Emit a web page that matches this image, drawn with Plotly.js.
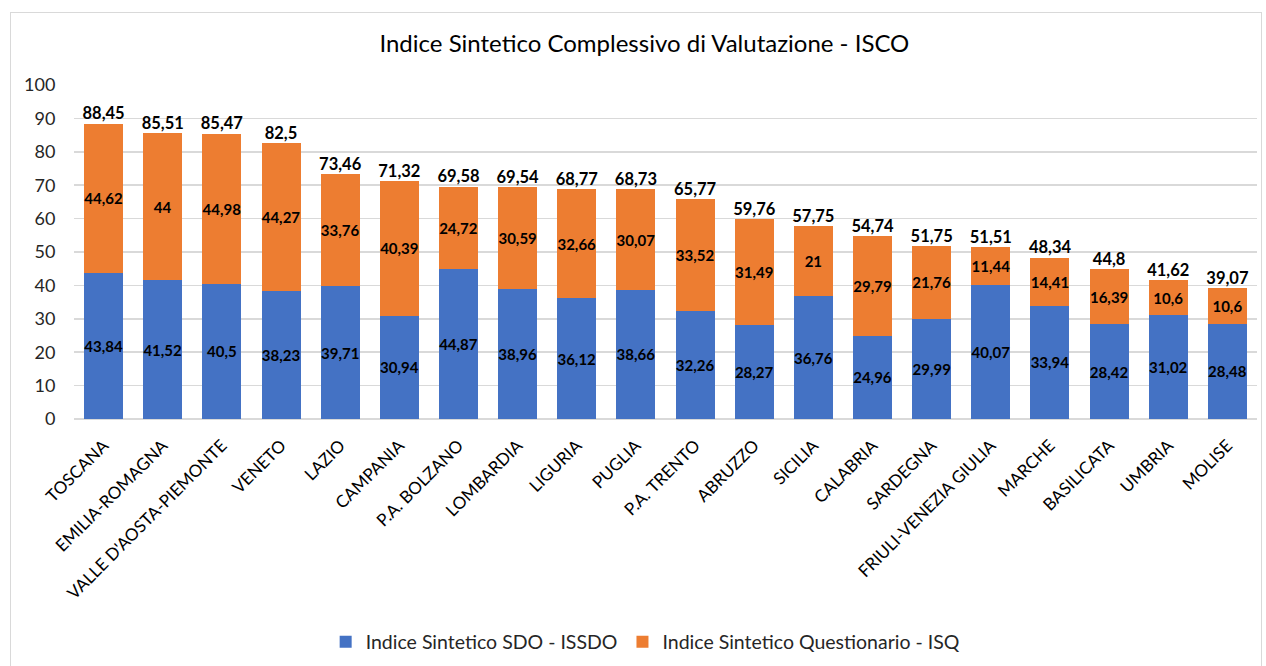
<!DOCTYPE html>
<html><head><meta charset="utf-8">
<script src="https://cdn.plot.ly/plotly-3.0.1.min.js"></script>
<style>
body{margin:0;background:#fff;}
#frame{position:absolute;left:10px;top:12px;width:1252px;height:660px;border:1px solid #d9d9d9;box-sizing:border-box;pointer-events:none;}
#chart{position:absolute;left:0;top:0;width:1266px;height:666px;}
</style></head>
<body>
<div id="chart"></div>
<div id="frame"></div>
<script>
const regions = ["TOSCANA","EMILIA-ROMAGNA","VALLE D'AOSTA-PIEMONTE","VENETO","LAZIO","CAMPANIA","P.A. BOLZANO","LOMBARDIA","LIGURIA","PUGLIA","P.A. TRENTO","ABRUZZO","SICILIA","CALABRIA","SARDEGNA","FRIULI-VENEZIA GIULIA","MARCHE","BASILICATA","UMBRIA","MOLISE"];
const issdo = [43.84,41.52,40.5,38.23,39.71,30.94,44.87,38.96,36.12,38.66,32.26,28.27,36.76,24.96,29.99,40.07,33.94,28.42,31.02,28.48];
const isq = [44.62,44,44.98,44.27,33.76,40.39,24.72,30.59,32.66,30.07,33.52,31.49,21,29.79,21.76,11.44,14.41,16.39,10.6,10.6];
const isco = [88.45,85.51,85.47,82.5,73.46,71.32,69.58,69.54,68.77,68.73,65.77,59.76,57.75,54.74,51.75,51.51,48.34,44.8,41.62,39.07];

const fmt = v => String(v).replace('.', ',');
const FONT = 'Lato, "Open Sans", sans-serif';

const traces = [
 {type:'bar', name:'Indice Sintetico SDO - ISSDO', x:regions, y:issdo,
  marker:{color:'#4472C4'}, text:issdo.map(fmt), textposition:'inside', insidetextanchor:'middle',
  textangle:0, constraintext:'none', textfont:{family:FONT,size:15,color:'#000',weight:'bold'}, hoverinfo:'x+y'},
 {type:'bar', name:'Indice Sintetico Questionario - ISQ', x:regions, y:isq,
  marker:{color:'#ED7D31'}, text:isq.map(fmt), textposition:'inside', insidetextanchor:'middle',
  textangle:0, constraintext:'none', textfont:{family:FONT,size:15,color:'#000',weight:'bold'}, hoverinfo:'x+y'},
 {type:'scatter', mode:'text', x:regions, y:isco, text:isco.map(fmt), textposition:'top center',
  textfont:{family:FONT,size:16.5,color:'#000',weight:'bold'}, showlegend:false, hoverinfo:'skip', cliponaxis:false}
];

const layout = {
 width:1266, height:666, barmode:'stack', bargap:0.34,
 paper_bgcolor:'rgba(0,0,0,0)', plot_bgcolor:'#fff',
 margin:{l:74, r:9, t:85, b:247},
 font:{family:FONT, color:'#404040'},
 title:{text:'Indice Sintetico Complessivo di Valutazione - ISCO', font:{family:FONT,size:24,color:'#000'},
  x:0.509, xref:'container', xanchor:'center', y:0.934, yref:'container', yanchor:'middle'},
 xaxis:{type:'category', range:[-0.5,19.5], tickangle:-45, tickfont:{family:FONT,size:17,color:'#000'}, showline:false, ticks:'outside', ticklen:9, tickcolor:'rgba(0,0,0,0)', automargin:false},
 yaxis:{range:[0,100], dtick:10, tickfont:{family:FONT,size:18,color:'#262626'}, gridcolor:'#d9d9d9', gridwidth:1.5,
  zeroline:true, zerolinecolor:'#d9d9d9', zerolinewidth:1.5, showline:false, ticks:'outside', ticklen:14, tickcolor:'rgba(0,0,0,0)', automargin:false},
 legend:{orientation:'h', traceorder:'normal', x:0.51, xref:'container', xanchor:'center', y:0.036, yref:'container', yanchor:'middle', font:{family:FONT,size:19.5,color:'#262626'}, itemwidth:30},
 showlegend:true
};
Plotly.newPlot('chart', traces, layout, {displayModeBar:false, staticPlot:true});
</script>
</body></html>
